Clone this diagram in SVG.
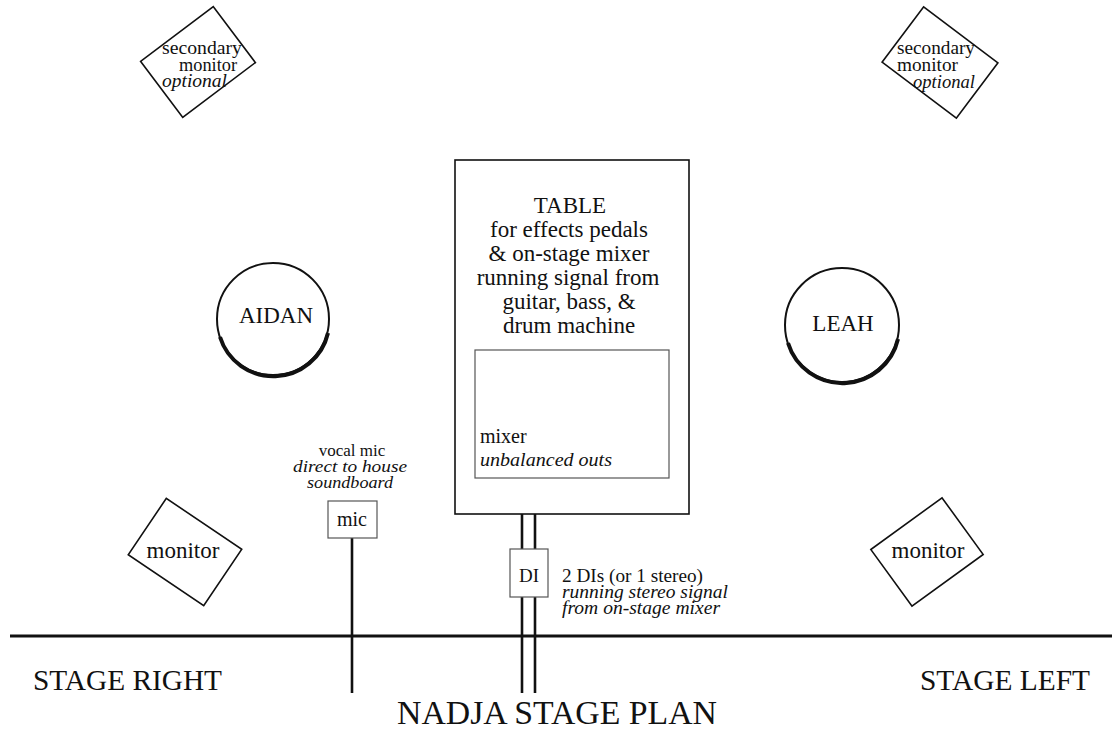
<svg xmlns="http://www.w3.org/2000/svg" width="1112" height="729" viewBox="0 0 1112 729">
<style>
text{font-family:"Liberation Serif","Times New Roman",serif;fill:#111}
.it{font-style:italic}
.box{fill:#fff;stroke:#111;stroke-width:1.6}
.thin{fill:#fff;stroke:#555;stroke-width:1.2}
.wire{stroke:#111;stroke-width:2.6;fill:none}
.c{text-anchor:middle}
</style>
<rect width="1112" height="729" fill="#fff"/>
<line x1="10" y1="636" x2="1112" y2="636" stroke="#111" stroke-width="3"/>
<g id="connectors">
<line class="wire" x1="352" y1="538" x2="352" y2="693"/>
<line class="wire" x1="522" y1="478" x2="522" y2="693"/>
<line class="wire" x1="535" y1="478" x2="535" y2="693"/>
</g>
<g id="sec-monitor-left">
<rect class="box" x="-45.5" y="-35" width="91" height="70" transform="translate(198 62) rotate(-37)"/>
<text x="162" y="54" font-size="19" textLength="80" lengthAdjust="spacingAndGlyphs">secondary</text>
<text x="179" y="71" font-size="19" textLength="58" lengthAdjust="spacingAndGlyphs">monitor</text>
<text class="it" x="162" y="87" font-size="19" textLength="65" lengthAdjust="spacingAndGlyphs">optional</text>
</g>
<g id="sec-monitor-right">
<rect class="box" x="-46.5" y="-34.5" width="93" height="69" transform="translate(940 62.5) rotate(37)"/>
<text x="897" y="54" font-size="19" textLength="78" lengthAdjust="spacingAndGlyphs">secondary</text>
<text x="897" y="71" font-size="19" textLength="61" lengthAdjust="spacingAndGlyphs">monitor</text>
<text class="it" x="913" y="88" font-size="19" textLength="62" lengthAdjust="spacingAndGlyphs">optional</text>
</g>
<g id="aidan">
<circle cx="273" cy="319" r="56" fill="#fff" stroke="#111" stroke-width="2"/>
<path d="M220 337 A56 56 0 0 0 328 333" fill="none" stroke="#111" stroke-width="4"/>
<text class="c" x="276" y="323" font-size="23">AIDAN</text>
</g>
<g id="leah">
<circle cx="842" cy="325" r="57" fill="#fff" stroke="#111" stroke-width="2"/>
<path d="M788 343 A57 57 0 0 0 898 339" fill="none" stroke="#111" stroke-width="4"/>
<text class="c" x="843" y="331" font-size="23">LEAH</text>
</g>
<g id="table">
<rect class="box" x="455" y="160" width="234" height="354" stroke-width="2.4"/>
<text class="c" x="570" y="213" font-size="23">TABLE</text>
<text class="c" x="569" y="237" font-size="23">for effects pedals</text>
<text class="c" x="569" y="261" font-size="23">&amp; on-stage mixer</text>
<text class="c" x="568" y="285" font-size="23">running signal from</text>
<text class="c" x="569" y="309" font-size="23">guitar, bass, &amp;</text>
<text class="c" x="569" y="333" font-size="23">drum machine</text>
</g>
<g id="mixer">
<rect class="thin" x="475" y="350" width="194" height="128"/>
<text x="480" y="443" font-size="20">mixer</text>
<text class="it" x="480" y="466" font-size="19" textLength="132" lengthAdjust="spacingAndGlyphs">unbalanced outs</text>
</g>
<g id="di">
<rect class="thin" x="510" y="549" width="38" height="48"/>
<text class="c" x="529" y="582" font-size="19">DI</text>
<text x="562" y="582" font-size="18" textLength="141" lengthAdjust="spacingAndGlyphs">2 DIs (or 1 stereo)</text>
<text class="it" x="562" y="598" font-size="18" textLength="166" lengthAdjust="spacingAndGlyphs">running stereo signal</text>
<text class="it" x="562" y="614" font-size="18" textLength="158" lengthAdjust="spacingAndGlyphs">from on-stage mixer</text>
</g>
<g id="mic">
<rect class="thin" x="328" y="501" width="49" height="37"/>
<text class="c" x="352" y="526" font-size="20">mic</text>
<text class="c" x="352" y="456" font-size="17">vocal mic</text>
<text class="c it" x="350" y="472" font-size="17" textLength="114" lengthAdjust="spacingAndGlyphs">direct to house</text>
<text class="c it" x="350" y="488" font-size="17" textLength="86" lengthAdjust="spacingAndGlyphs">soundboard</text>
</g>
<g id="monitor-left">
<rect class="box" x="-45.5" y="-34" width="91" height="68" transform="translate(185 552) rotate(34)"/>
<text class="c" x="183" y="558" font-size="23">monitor</text>
</g>
<g id="monitor-right">
<rect class="box" x="-44" y="-35" width="88" height="70" transform="translate(927 552) rotate(-36)"/>
<text class="c" x="928" y="558" font-size="23">monitor</text>
</g>
<g id="labels">
<text x="33" y="690" font-size="30" textLength="189" lengthAdjust="spacingAndGlyphs">STAGE RIGHT</text>
<text x="920" y="690" font-size="30" textLength="170" lengthAdjust="spacingAndGlyphs">STAGE LEFT</text>
<text x="397" y="724" font-size="33" textLength="320" lengthAdjust="spacingAndGlyphs">NADJA STAGE PLAN</text>
</g>
</svg>
